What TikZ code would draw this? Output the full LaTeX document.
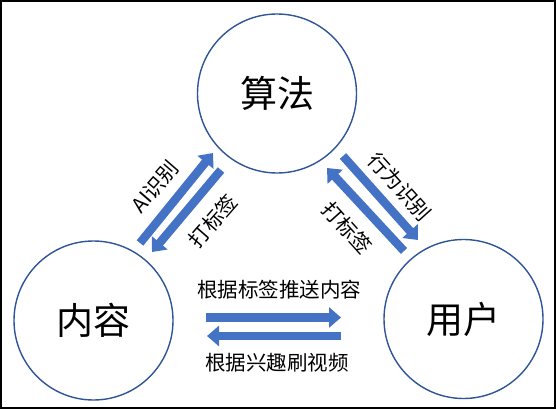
\documentclass[tikz,border=0pt]{standalone}
\usepackage{fontspec}
\setmainfont{Noto Sans CJK SC}
\usetikzlibrary{arrows.meta}
\definecolor{ringblue}{RGB}{47,85,151}
\definecolor{arrowblue}{RGB}{68,114,196}
\tikzset{
  ring/.style={circle,draw=ringblue,line width=1.4pt,minimum size=159pt,inner sep=0pt,font=\fontsize{37}{40}\selectfont},
  bigarrow/.style={draw=arrowblue,line width=8.5pt,-{Triangle[width=20pt,length=12pt]}},
  lbl/.style={font=\fontsize{20.5}{23}\selectfont,inner sep=0pt}
}
\begin{document}
\begin{tikzpicture}[x=1pt,y=-1pt]
\useasboundingbox (0,0) rectangle (556,409);
\draw[line width=2pt] (1,1) rectangle (555,408);
\node[ring] (alg) at (277,93.5) {算法};
\node[ring] (con) at (93.5,320.5) {内容};
\node[ring] (usr) at (463.5,319) {用户};
% left pair
\coordinate (l1s) at (140,243);
\coordinate (l1e) at (213,153);
\coordinate (l2s) at (221,170);
\coordinate (l2e) at (152,252);
\draw[bigarrow] (l1s) -- (l1e);
\draw[bigarrow] (l2s) -- (l2e);
% right pair
\coordinate (r1s) at (343,156);
\coordinate (r1e) at (418,240);
\coordinate (r2s) at (404,251);
\coordinate (r2e) at (327,168);
\draw[bigarrow] (r1s) -- (r1e);
\draw[bigarrow] (r2s) -- (r2e);
% horizontal pair
\coordinate (h1s) at (206,317.5);
\coordinate (h1e) at (341,317.5);
\coordinate (h2s) at (341,336);
\coordinate (h2e) at (207,336);
\draw[bigarrow] (h1s) -- (h1e);
\draw[bigarrow] (h2s) -- (h2e);
% labels
\node[lbl,rotate=49] (t1) at (155,187) {AI识别};
\node[lbl,rotate=49] (t2) at (213,221) {打标签};
\node[lbl,rotate=-48] (t3) at (400,187) {行为识别};
\node[lbl,rotate=-48] (t4) at (347,228) {打标签};
\node[lbl] (t5) at (279,290) {根据标签推送内容};
\node[lbl] (t6) at (277,363) {根据兴趣刷视频};
\end{tikzpicture}
\end{document}
